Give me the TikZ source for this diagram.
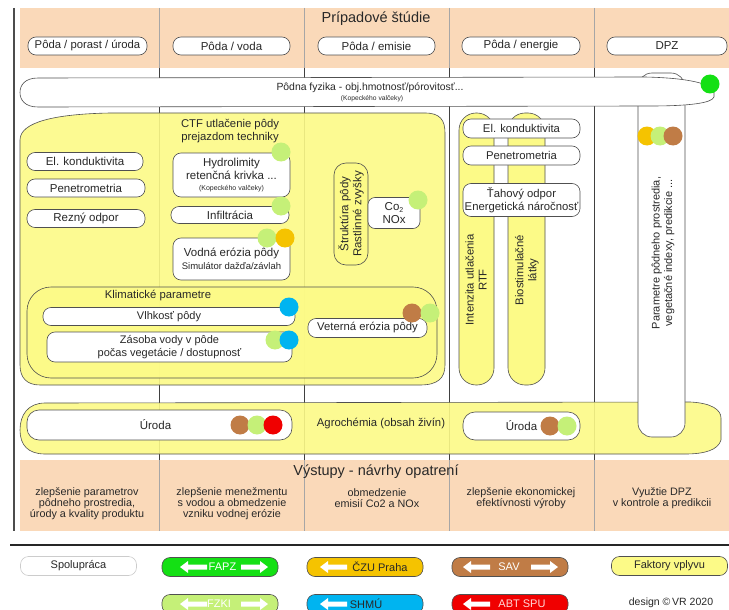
\documentclass[tikz,border=0pt]{standalone}
\usepackage{fontspec}
\setmainfont{Liberation Sans}
\definecolor{hdr}{RGB}{250,217,185}
\definecolor{ylw}{RGB}{252,250,135}
\definecolor{lgr}{RGB}{197,240,120}
\definecolor{bgr}{RGB}{20,224,20}
\definecolor{org}{RGB}{245,195,0}
\definecolor{brn}{RGB}{192,124,70}
\definecolor{blu}{RGB}{0,180,240}
\definecolor{rd}{RGB}{240,0,0}
\definecolor{edge}{RGB}{80,80,80}
\definecolor{txt}{RGB}{40,40,40}
\begin{document}
\begin{tikzpicture}[x=1pt,y=-1pt,
  sz/.style n args={2}{minimum width=#1pt, minimum height=#2pt},
  pill/.style={draw=edge, line width=0.6pt, fill=white, rounded corners=8pt, inner sep=0pt, align=center, font=\fontsize{11.5}{13}\selectfont, text=txt},
  ypill/.style={pill, fill=ylw},
  dot/.style={circle, minimum size=19pt, inner sep=0pt},
  lbl/.style={align=center, font=\fontsize{11.3}{13}\selectfont, text=txt, inner sep=0pt},
  outtxt/.style={align=center, font=\fontsize{10.8}{10.9}\selectfont, text=txt, inner sep=0pt},
  legpill/.style={draw=edge, line width=0.6pt, rounded corners=8pt, minimum width=116pt, minimum height=19pt, inner sep=0pt, font=\fontsize{11}{13}\selectfont},
  container/.style={draw=edge, line width=0.6pt, fill=ylw, fill opacity=0.9},
  larrow/.pic={\fill[white] (0,0) -- (8,-6) -- (8,-2.5) -- (27,-2.5) -- (27,2.5) -- (8,2.5) -- (8,6) -- cycle;},
  rarrow/.pic={\fill[white] (0,0) -- (-8,-6) -- (-8,-2.5) -- (-27,-2.5) -- (-27,2.5) -- (-8,2.5) -- (-8,6) -- cycle;},
]
\useasboundingbox (0,0) rectangle (729,610);
\fill[white] (0,0) rectangle (729,610);

% header and output bands
\fill[hdr] (20,8) rectangle (729,68);
\fill[hdr] (20,460) rectangle (729,531);
\foreach \x in {159,304,449,594}{
  \draw[gray!70, line width=0.5pt] (\x,8) -- (\x,68);
  \draw[black!75, line width=1pt] (\x,68) -- (\x,460);
  \draw[gray!70, line width=0.5pt] (\x,460) -- (\x,531);
}
\draw[black!70, line width=1.5pt] (14,8) -- (14,531);

\node[font=\fontsize{14.5}{17}\selectfont, text=txt] (title) at (376,19) {Prípadové štúdie};
\node[pill, sz={119}{18}, font=\fontsize{11.3}{13}\selectfont] (h1) at (87.5,46) {Pôda / porast / úroda};
\node[pill, sz={117}{18}] (h2) at (231.5,46) {Pôda / voda};
\node[pill, sz={117}{18}] (h3) at (376.5,46) {Pôda / emisie};
\node[pill, sz={118}{18}] (h4) at (521,46) {Pôda / energie};
\node[pill, sz={120}{18}] (h5) at (667,46) {DPZ};

% big yellow region
\path[container] (20,140) .. controls (20,122) and (55,114) .. (110,113) -- (425,113) .. controls (440,113) and (445,120) .. (445,133) -- (445,365) .. controls (445,378) and (438,385) .. (420,385) -- (40,385) .. controls (27,385) and (20,378) .. (20,365) -- cycle;

\node[lbl] (ctf) at (230,131) {CTF utlačenie pôdy\\prejazdom techniky};
\node[pill, sz={116}{18}] (elk1) at (85,161.5) {El. konduktivita};
\node[pill, sz={118}{18}] (pen1) at (86,188) {Penetrometria};
\node[pill, sz={118}{18}] (rez) at (86,218.5) {Rezný odpor};
\node[pill, sz={117}{44}] (hyd) at (231.5,175) {Hydrolimity\\retenčná krivka ...\\[-2pt]{\fontsize{7}{8}\selectfont (Kopeckého valčeky)}};
\node[pill, sz={118}{17}] (inf) at (230,215) {Infiltrácia};
\node[pill, sz={117}{42}] (voe) at (231.5,259) {Vodná erózia pôdy\\{\fontsize{9.5}{11}\selectfont Simulátor dažďa/závlah}};
\node[ypill, rotate=90, sz={102}{34}, rounded corners=12pt] (str) at (351,214) {Štruktúra pôdy\\Rastlinné zvyšky};
\node[pill, sz={52}{31}, rounded corners=7pt] (co2) at (394,213) {Co\raisebox{-2pt}{\fontsize{7}{8}\selectfont 2}\\NOx};
\node[dot, fill=lgr] (dhyd) at (281,152) {};
\node[dot, fill=lgr] (dinf) at (281,206) {};
\node[dot, fill=lgr] (dvoe1) at (267,238) {};
\node[dot, fill=org] (dvoe2) at (285,238) {};
\node[dot, fill=lgr] (dco2) at (418,200) {};

% climatic
\node[container, rounded corners=24pt, sz={410}{91}] (klim) at (232,332.5) {};
\node[lbl] (klimt) at (158,296) {Klimatické parametre};
\node[pill, sz={252}{18}, font=\fontsize{11}{13}\selectfont] (vlh) at (169,316.5) {Vlhkosť pôdy};
\node[pill, sz={245}{30}, font=\fontsize{11}{12.5}\selectfont] (zas) at (169.5,347) {Zásoba vody v pôde\\počas vegetácie / dostupnosť};
\node[pill, sz={119}{19}, font=\fontsize{11.3}{13}\selectfont] (vet) at (367.5,328) {Veterná erózia pôdy};
\node[dot, fill=blu] (dvlh) at (289,307) {};
\node[dot, fill=lgr] (dzas1) at (275,340) {};
\node[dot, fill=blu] (dzas2) at (289,340) {};
\node[dot, fill=brn] (dvet1) at (412,313) {};
\node[dot, fill=lgr] (dvet2) at (430,313) {};

% column 4
\node[ypill, rotate=90, sz={272}{35}, rounded corners=17pt] (intz) at (476.5,249) {};
\node[ypill, rotate=90, sz={272}{37}, rounded corners=17pt] (bios) at (526.5,249) {};
\node[lbl, rotate=90] (intzt) at (476,280) {Intenzita utlačenia\\RTF};
\node[lbl, rotate=90] (biost) at (527,270) {Biostimulačné\\látky};
\node[pill, sz={117}{19}, font=\fontsize{11.3}{13}\selectfont] (elk2) at (521.5,128.5) {El. konduktivita};
\node[pill, sz={117}{19}, font=\fontsize{11.3}{13}\selectfont] (pen2) at (521.5,155.5) {Penetrometria};
\node[pill, sz={117}{33}, font=\fontsize{11.3}{13}\selectfont] (tah) at (521.5,200) {Ťahový odpor\\Energetická náročnosť};

% agrochemistry band
\path[container] (45,403) -- (690,402) .. controls (712,403) and (721,410) .. (721,418) -- (721,440) .. controls (718,450) and (705,454) .. (685,454) -- (45,454) .. controls (28,454) and (20,445) .. (20,430) .. controls (20,415) and (28,403) .. (45,403) -- cycle;
\node[lbl] (agro) at (381,424) {Agrochémia (obsah živín)};
\node[pill, sz={265}{30}, rounded corners=12pt] (uro1) at (159.5,425) {\hspace*{-8pt}Úroda};
\node[pill, sz={117}{28}, rounded corners=12pt] (uro2) at (521.5,426) {Úroda};
\node[dot, fill=brn] (du1) at (240,425) {};
\node[dot, fill=lgr] (du2) at (257,425) {};
\node[dot, fill=rd] (du3) at (273,425) {};
\node[dot, fill=brn] (du4) at (550,426) {};
\node[dot, fill=lgr] (du5) at (567,426) {};

% DPZ column
\node[pill, sz={47}{364}, rounded corners=14pt] (dpz) at (661.5,255) {};
\node[lbl, rotate=90, font=\fontsize{11}{12.5}\selectfont] (dpzt) at (663,253) {Parametre pôdneho prostredia,\\vegetačné indexy, predikcie ...};
\node[dot, fill=org] (dd1) at (647,136) {};
\node[dot, fill=lgr] (dd2) at (660,136) {};
\node[dot, fill=brn] (dd3) at (673,136) {};

% soil physics pill
\path[draw=edge, line width=0.6pt, fill=white] (38,78) -- (645,77) .. controls (690,78) and (712,84) .. (714,92) -- (714,97) .. controls (712,103) and (690,106) .. (650,106) -- (38,107) .. controls (25,107) and (20,100) .. (20,92.5) .. controls (20,85) and (25,78) .. (38,78) -- cycle;
\node[lbl, font=\fontsize{10.4}{12}\selectfont] (fyz) at (370,88) {Pôdna fyzika - obj.hmotnosť/pórovitosť...};
\node[lbl, font=\fontsize{6.7}{8}\selectfont] (kop) at (372,98.5) {(Kopeckého valčeky)};
\node[dot, fill=bgr] (dfyz) at (710,84) {};

% outputs
\node[font=\fontsize{14.5}{17}\selectfont, text=txt] (vyst) at (376,472) {Výstupy - návrhy opatrení};
\node[outtxt] (o1) at (87,503.5) {zlepšenie parametrov\\pôdneho prostredia,\\úrody a kvality produktu};
\node[outtxt] (o2) at (232,503.5) {zlepšenie menežmentu\\s vodou a obmedzenie\\vzniku vodnej erózie};
\node[outtxt] (o3) at (377,498) {obmedzenie\\emisií Co2 a NOx};
\node[outtxt] (o4) at (521,498) {zlepšenie ekonomickej\\efektívnosti výroby};
\node[outtxt] (o5) at (662,498) {Využtie DPZ\\v kontrole a predikcii};

% legend
\draw[black!85, line width=2pt] (10,545) -- (729,545);
\node[legpill, draw=gray!40, fill=white, text=txt] (spol) at (78.5,566) {Spolupráca};
\node[legpill, fill=bgr] (fapz) at (220,567) {};
\node[legpill, fill=org] (czu) at (365,567) {};
\node[legpill, fill=brn] (sav) at (510,567) {};
\node[legpill, fill=ylw, text=txt] (fakt) at (669.5,566) {Faktory vplyvu};
\node[legpill, fill=lgr] (fzki) at (220,604) {};
\node[legpill, fill=blu] (shmu) at (365,604) {};
\node[legpill, fill=rd] (abt) at (510,604) {};
\pic at (180,567) {larrow}; \pic at (268,567) {rarrow};
\pic at (180,604) {larrow}; \pic at (268,604) {rarrow};
\pic at (320,567) {larrow}; \pic at (320,604) {larrow};
\pic at (463,567) {larrow}; \pic at (558,567) {rarrow};
\pic at (463,604) {larrow};
\node[font=\fontsize{11}{13}\selectfont, text=white] (fapzt) at (222.5,567) {FAPZ};
\node[font=\fontsize{11}{13}\selectfont, text=white] (fzkit) at (219,604) {FZKI};
\node[font=\fontsize{11}{13}\selectfont, text=txt] (czut) at (380,567) {ČZU Praha};
\node[font=\fontsize{11}{13}\selectfont, text=txt] (shmut) at (366,604) {SHMÚ};
\node[font=\fontsize{11}{13}\selectfont, text=white] (savt) at (509,567) {SAV};
\node[font=\fontsize{11}{13}\selectfont, text=white!85!red] (abtt) at (522,604) {ABT SPU};
\node[font=\fontsize{10.5}{13}\selectfont, text=txt] (design) at (671,603) {design \textcopyright\,VR 2020};
\end{tikzpicture}
\end{document}
